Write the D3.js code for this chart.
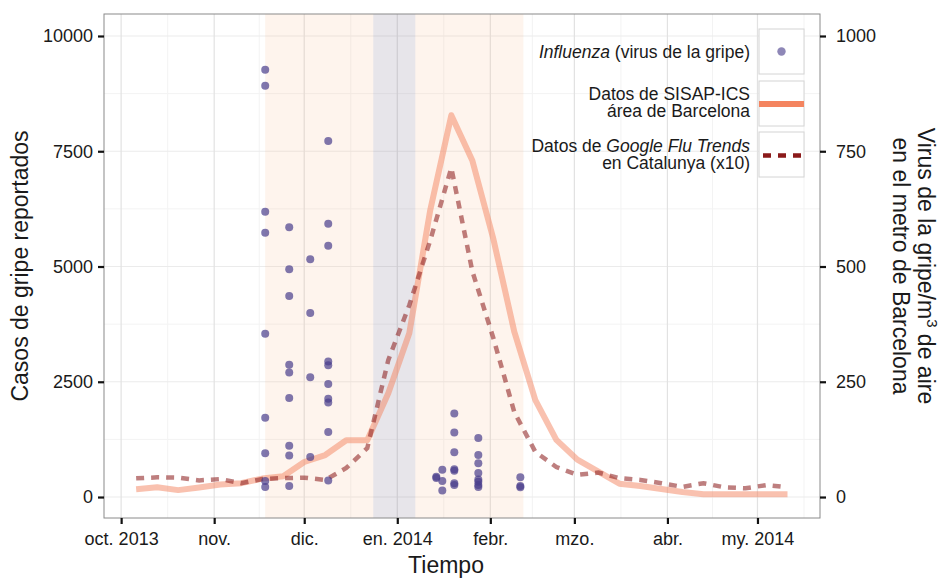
<!DOCTYPE html>
<html>
<head>
<meta charset="utf-8">
<script src="https://cdn.jsdelivr.net/npm/d3@7"></script>
<style>
body { margin: 0; background: #fff; }
text { font-family: "Liberation Sans", Arial, Helvetica, sans-serif; fill: #1a1a1a; }
</style>
</head>
<body>
<svg id="chart" width="941" height="579"></svg>
<script>
// weekly series (GFT weeks start on Sunday)
var weekDates = ["2013-10-06","2013-10-13","2013-10-20","2013-10-27","2013-11-03","2013-11-10",
  "2013-11-17","2013-11-24","2013-12-01","2013-12-08","2013-12-15","2013-12-22","2013-12-29",
  "2014-01-05","2014-01-12","2014-01-19","2014-01-26","2014-02-02","2014-02-09","2014-02-16",
  "2014-02-23","2014-03-02","2014-03-09","2014-03-16","2014-03-23","2014-03-30","2014-04-06",
  "2014-04-13","2014-04-20","2014-04-27","2014-05-04","2014-05-11"]

// SISAP-ICS reported cases, Barcelona area
var sisapCases = [170, 210, 150, 205, 270, 300, 400, 450, 760, 910, 1230, 1230, 2250, 3550,
  6230, 8280, 7300, 5600, 3580, 2100, 1240, 810, 549, 290, 240, 175, 110, 60, 60, 60, 60, 60]

// Google Flu Trends Catalunya (plotted x10)
var gftCatalunya = [40.5, 42.7, 42, 36, 39, 30, 39, 41, 42, 37, 63, 106, 297, 416, 557, 714,
  490, 345, 184, 98, 65, 48, 53, 41, 37, 30, 22, 30, 21, 19, 26, 21]

// metro air samples: influenza virus / m3
var sampleDates = ["2013-11-18","2013-11-26","2013-12-03","2013-12-09","2014-01-14",
  "2014-01-16","2014-01-20","2014-01-28","2014-02-11"]
var virusPerM3 = [
  [927, 892, 619, 573, 354, 172, 95, 35, 22],
  [585, 494, 436, 287, 270, 215, 111, 90, 24],
  [516, 399, 260, 87],
  [772, 593, 545, 294, 286, 245, 213, 205, 141, 36],
  [44, 41],
  [59, 35, 14],
  [181, 140, 97, 60, 57, 30, 26],
  [128, 91, 73, 52, 38, 33, 26, 22],
  [43, 24, 21]
]

var schoolPeriods = [["2013-11-18","2013-12-24"], ["2014-01-07","2014-02-12"]]
var holidayPeriods = [["2013-12-24","2014-01-07"]]

var leftTicks = [0, 2500, 5000, 7500, 10000]
var rightTicks = [0, 250, 500, 750, 1000]
var xTickDates = ["2013-10-01","2013-11-01","2013-12-01","2014-01-01","2014-02-01",
  "2014-03-01","2014-04-01","2014-05-01"]
var xTickLabels = ["oct. 2013","nov.","dic.","en. 2014","febr.","mzo.","abr.","my. 2014"]

var parse = d3.timeParse("%Y-%m-%d")

var svg = d3.select("#chart")
var pL = 104, pR = 820, pT = 14, pB = 518

var x = d3.scaleTime()
    .domain([new Date(2013, 8, 25, 7), new Date(2014, 4, 21, 20)])
    .range([pL, pR])
var y = d3.scaleLinear().domain([-455, 10477]).range([pB, pT])
var yR = d3.scaleLinear().domain([-45.5, 1047.7]).range([pB, pT])

// panel
svg.append("rect").attr("x", pL).attr("y", pT)
  .attr("width", pR - pL).attr("height", pB - pT).attr("fill", "#fff")

var grid = svg.append("g")
var months = d3.timeMonths(new Date(2013, 8, 1), new Date(2014, 6, 1))
var minorX = []
for (var i = 0; i < months.length - 1; i++) {
  minorX.push(new Date((+months[i] + +months[i + 1]) / 2))
}
minorX = minorX.filter(d => d >= x.domain()[0] && d <= x.domain()[1])

grid.selectAll(".minh").data([1250, 3750, 6250, 8750]).join("line")
  .attr("class", "minh")
  .attr("x1", pL).attr("x2", pR)
  .attr("y1", d => y(d)).attr("y2", d => y(d))
  .attr("stroke", "#f3f3f3").attr("stroke-width", 1)
grid.selectAll(".minv").data(minorX).join("line")
  .attr("class", "minv")
  .attr("x1", d => x(d)).attr("x2", d => x(d))
  .attr("y1", pT).attr("y2", pB)
  .attr("stroke", "#f3f3f3").attr("stroke-width", 1)
grid.selectAll(".majh").data(leftTicks).join("line")
  .attr("class", "majh")
  .attr("x1", pL).attr("x2", pR)
  .attr("y1", d => y(d)).attr("y2", d => y(d))
  .attr("stroke", "#ebebeb").attr("stroke-width", 1.2)
grid.selectAll(".majv").data(xTickDates.map(parse)).join("line")
  .attr("class", "majv")
  .attr("x1", d => x(d)).attr("x2", d => x(d))
  .attr("y1", pT).attr("y2", pB)
  .attr("stroke", "#e2e2e2").attr("stroke-width", 1.2)

// shaded periods
svg.append("g").selectAll("rect").data(schoolPeriods).join("rect")
  .attr("x", d => x(parse(d[0])))
  .attr("width", d => x(parse(d[1])) - x(parse(d[0])))
  .attr("y", pT).attr("height", pB - pT)
  .attr("fill", "#f8b687").attr("fill-opacity", 0.15)
svg.append("g").selectAll("rect").data(holidayPeriods).join("rect")
  .attr("x", d => x(parse(d[0])))
  .attr("width", d => x(parse(d[1])) - x(parse(d[0])))
  .attr("y", pT).attr("height", pB - pT)
  .attr("fill", "#6e6480").attr("fill-opacity", 0.17)

// lines
var sisapLine = d3.line().x((d, i) => x(parse(weekDates[i]))).y(d => y(d))
svg.append("path").datum(sisapCases)
  .attr("d", sisapLine)
  .attr("fill", "none").attr("stroke", "#f4845f").attr("stroke-opacity", 0.5)
  .attr("stroke-width", 6).attr("stroke-linejoin", "round")

var gftLine = d3.line().x((d, i) => x(parse(weekDates[i]))).y(d => y(d * 10))
svg.append("path").datum(gftCatalunya)
  .attr("d", gftLine)
  .attr("fill", "none").attr("stroke", "#8b1a1a").attr("stroke-opacity", 0.56)
  .attr("stroke-width", 4.5).attr("stroke-dasharray", "8,7")

// points
var pts = []
sampleDates.forEach(function (dt, i) {
  virusPerM3[i].forEach(function (v) { pts.push({date: parse(dt), value: v}) })
})
svg.append("g").selectAll("circle").data(pts).join("circle")
  .attr("cx", d => x(d.date)).attr("cy", d => yR(d.value)).attr("r", 4)
  .attr("fill", "darkslateblue").attr("fill-opacity", 0.7)

// border
svg.append("rect").attr("x", pL).attr("y", pT)
  .attr("width", pR - pL).attr("height", pB - pT)
  .attr("fill", "none").attr("stroke", "#8a8a8a").attr("stroke-width", 1)

// axes
function styleAxis(g) {
  g.select(".domain").remove()
  g.selectAll(".tick line").attr("stroke", "#111").attr("stroke-width", 2.2)
  g.selectAll(".tick text").style("font-size", "18px").attr("fill", "#1a1a1a")
}
svg.append("g").attr("transform", "translate(" + pL + ",0)")
  .call(d3.axisLeft(y).tickValues(leftTicks).tickSize(6).tickPadding(5).tickFormat(d3.format("d")))
  .call(styleAxis)
svg.append("g").attr("transform", "translate(" + pR + ",0)")
  .call(d3.axisRight(yR).tickValues(rightTicks).tickSize(6).tickPadding(10).tickFormat(d3.format("d")))
  .call(styleAxis)
svg.append("g").attr("transform", "translate(0," + pB + ")")
  .call(d3.axisBottom(x).tickValues(xTickDates.map(parse)).tickSize(6).tickPadding(8)
    .tickFormat((d, i) => xTickLabels[i]))
  .call(styleAxis)

// axis titles
svg.append("text").attr("transform", "translate(28,266) rotate(-90)")
  .attr("text-anchor", "middle").style("font-size", "23px")
  .text("Casos de gripe reportados")
svg.append("text").attr("x", 446).attr("y", 573)
  .attr("text-anchor", "middle").style("font-size", "23px")
  .text("Tiempo")
var rtitle = svg.append("g").attr("transform", "translate(918,266) rotate(90)")
var t1 = rtitle.append("text").attr("x", 0).attr("y", 0).attr("text-anchor", "middle").style("font-size", "23px")
t1.append("tspan").text("Virus de la gripe/m")
t1.append("tspan").attr("dy", -9).style("font-size", "15px").text("3")
t1.append("tspan").attr("dy", 9).text(" de aire")
rtitle.append("text").attr("x", 0).attr("y", 25).attr("text-anchor", "middle")
  .style("font-size", "23px").text("en el metro de Barcelona")

// legend
var keyX = 759, keyW = 45, keyTops = [29, 81, 132]
var lg = svg.append("g")
lg.selectAll("rect").data(keyTops).join("rect")
  .attr("x", keyX).attr("y", d => d).attr("width", keyW).attr("height", keyW)
  .attr("fill", "#fff").attr("stroke", "#d4d4d4").attr("stroke-width", 1)
lg.append("circle").attr("cx", keyX + keyW / 2).attr("cy", keyTops[0] + keyW / 2).attr("r", 4.2)
  .attr("fill", "darkslateblue").attr("fill-opacity", 0.62)
lg.append("line").attr("x1", keyX).attr("x2", keyX + keyW)
  .attr("y1", keyTops[1] + 23).attr("y2", keyTops[1] + 23)
  .attr("stroke", "#f4845f").attr("stroke-width", 6)
lg.append("line").attr("x1", keyX + 1).attr("x2", keyX + keyW)
  .attr("y1", keyTops[2] + 23.5).attr("y2", keyTops[2] + 23.5)
  .attr("stroke", "#8b1a1a").attr("stroke-width", 4.5).attr("stroke-dasharray", "8,7")
  .attr("stroke-dashoffset", -3)

function legText(yc, parts) {
  var t = lg.append("text").attr("x", 750).attr("y", yc).attr("text-anchor", "end")
    .attr("dominant-baseline", "central").style("font-size", "17.5px")
  parts.forEach(function (p) {
    t.append("tspan").style("font-style", p[1] ? "italic" : "normal").text(p[0])
  })
}
legText(52, [["Influenza", true], [" (virus de la gripe)", false]])
legText(94, [["Datos de SISAP-ICS", false]])
legText(111, [["área de Barcelona", false]])
legText(145.5, [["Datos de ", false], ["Google Flu Trends", true]])
legText(163, [["en Catalunya (x10)", false]])
</script>
</body>
</html>
